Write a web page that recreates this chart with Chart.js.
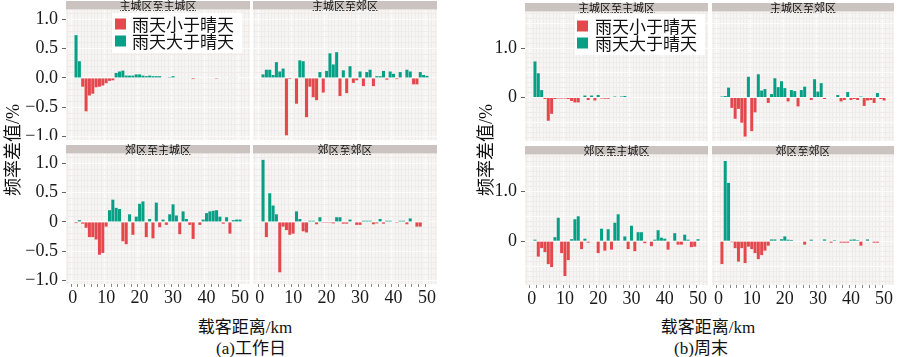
<!DOCTYPE html>
<html><head><meta charset="utf-8">
<script src="https://cdn.jsdelivr.net/npm/chart.js@4.4.0/dist/chart.umd.min.js"></script>
<style>
html,body{margin:0;padding:0;background:#fff;width:900px;height:357px;overflow:hidden;position:relative}
canvas{position:absolute}
.t{position:absolute;font-family:"Liberation Serif","Times New Roman","Noto Sans CJK SC",serif;color:#111;white-space:nowrap;font-size:17px;line-height:1;transform:translate(-50%,-50%)}
.r{transform:translate(-50%,-50%) rotate(-90deg);font-size:18px}
</style></head><body>
<script>
// ---------- data ----------
const kmCategories = [1,2,3,4,5,6,7,8,9,10,11,12,13,14,15,16,17,18,19,20,21,22,23,24,25,26,27,28,29,30,31,32,33,34,35,36,37,38,39,40,41,42,43,44,45,46,47,48,49,50];
const xTickValues = [0,10,20,30,40,50];
const legendLabels = ['雨天小于晴天','雨天大于晴天'];
const stripLabels = ['主城区至主城区','主城区至郊区','郊区至主城区','郊区至郊区'];
const groupCaptions = ['(a)工作日','(b)周末'];
const xAxisTitle = '载客距离/km';
const yAxisTitle = '频率差值/%';
const yTickValuesA = [1,0.5,0,-0.5,-1];
const yTickLabelsATop = ['1.0','0.5','0.0','−0.5','−1.0'];
const yTickLabelsABottom = ['1.0','0.5','0','−0.5','−1.0'];
const yTickValuesB = [1,0];
const yTickLabelsB = ['1.0','0'];

// (a) workday
const workMainMain = [0.73,0.285,-0.15,-0.57,-0.30,-0.27,-0.16,-0.15,-0.13,-0.09,-0.05,-0.04,0.085,0.11,0.125,0.04,0.04,0.04,0.06,0.06,0.04,0.03,0.04,0.03,0.03,0.03,0,0.01,0.015,0.03,0.01,0.01,0.01,0.01,0.01,-0.02,0,0,0,0,0,0,-0.015,0,0.01,0,0.01,0.01,0.01,0];
const workMainSub = [0.06,0.14,0.14,0.05,0.27,0.11,0.16,-0.98,-0.02,0,-0.44,0.30,0.285,-0.67,-0.15,-0.33,-0.38,0.10,-0.25,0.12,0.42,0.23,0.44,-0.31,0.13,-0.26,0.20,-0.085,-0.04,0.11,-0.14,0.10,0.14,-0.14,0.03,0.03,0.12,-0.03,0.11,0.07,-0.02,0.10,0,0.14,0.11,-0.11,-0.11,0.10,0.05,0.035];
const workSubMain = [-0.02,0.03,-0.03,-0.10,-0.26,-0.26,-0.30,-0.56,-0.53,-0.08,0.20,0.38,0.24,0.22,-0.33,-0.38,0.13,-0.22,0.09,0.31,0.35,-0.26,0.05,-0.28,0.33,-0.09,0.04,-0.05,0.13,0.30,0.11,-0.21,0.18,0.05,-0.05,-0.29,0.01,-0.05,0.04,0.15,0.18,0.19,0.20,0.09,-0.03,0.08,-0.20,0.03,0.04,0.04];
const workSubSub = [1.06,-0.26,0.49,0.28,0.13,-0.86,-0.08,-0.14,-0.22,-0.20,0.18,0.05,-0.16,-0.18,0.02,0.02,-0.04,0.08,-0.015,-0.015,-0.015,-0.025,0.08,0.08,-0.03,-0.03,0.04,0,-0.05,-0.05,0.02,0.02,0.02,-0.04,-0.025,0.05,-0.03,0.02,0.02,0,-0.015,0.02,0.02,-0.04,0.06,0,-0.08,-0.08,0.01,0.01];
// (b) weekend
const wkndMainMain = [0.73,0.49,0.15,-0.03,-0.47,-0.33,-0.03,-0.02,-0.02,-0.02,-0.03,-0.07,-0.10,-0.10,0,0.04,-0.05,0.04,-0.06,0.05,-0.02,-0.025,-0.025,-0.01,0.02,-0.01,0.02,0.03,0,0,-0.01,0,-0.01,0,0,0,0,0,0,0.01,0,0.01,-0.01,0,0,0.01,0,0.01,0,0];
const wkndMainSub = [0.02,0.03,0.20,-0.21,-0.43,-0.23,-0.51,-0.79,0.42,-0.68,-0.30,0.47,0.14,0.17,-0.11,0.07,0.39,0.21,0.33,0.19,-0.08,0.15,0.13,-0.18,0.15,0.22,0,-0.05,0.37,0.12,0.29,-0.03,-0.01,0,0,0.05,-0.08,-0.05,0.11,-0.05,-0.03,-0.05,0.02,-0.17,-0.06,-0.05,-0.11,0.09,-0.03,-0.06];
const wkndSubMain = [0.03,-0.31,-0.14,-0.22,-0.46,-0.52,0.08,0.47,-0.24,-0.70,-0.38,0.04,0.44,0.50,-0.16,0.05,-0.03,0,0,-0.24,0.25,-0.19,0.24,-0.17,0.37,0.54,0,0.095,-0.16,0.31,-0.20,0.18,0.18,-0.04,0,-0.10,0.03,0.22,0.07,0.05,-0.17,0,0.16,-0.07,-0.07,0.13,0.03,-0.12,-0.11,0.04];
const wkndSubSub = [-0.46,1.61,1.17,-0.02,-0.14,-0.41,-0.14,-0.44,-0.11,-0.16,-0.24,-0.36,-0.28,-0.19,-0.09,0.035,0.035,0,0.04,0.095,0.03,0.025,0,0.01,0,-0.07,0.01,0.03,0,0,0.01,0.035,0,-0.03,0.02,0,-0.03,-0.03,-0.03,0.03,0.035,0.02,-0.09,0.01,0.035,-0.01,-0.03,-0.03,0,0.01];

// ---------- style ----------
const RED = '#e5484c';
const TEAL = '#05a086';
const STRIP_BG = '#cac3c0';
const PANEL_BG = '#f7f5f4';
const MINOR = '#efebe9';
const MAJOR = '#fcfbfb';
const CLEAR = 'rgba(0,0,0,0)';
const SERIF = '"Liberation Serif", "Times New Roman", serif';
const CJK = '"Noto Sans CJK SC", sans-serif';

const near = (a,b)=>Math.abs(a-b)<1e-6;

const bgPlugin = {id:'panelBg', beforeDraw(chart){
  const {ctx, chartArea:a} = chart;
  ctx.save(); ctx.fillStyle = PANEL_BG; ctx.fillRect(a.left, a.top, a.right-a.left, a.bottom-a.top); ctx.restore();
}};
const stripPlugin = {id:'strip', beforeDraw(chart, args, opts){
  const {ctx, chartArea:a} = chart;
  ctx.save();
  ctx.fillStyle = STRIP_BG; ctx.fillRect(a.left, a.top-9, a.right-a.left, 8.5);
  ctx.fillStyle = '#111'; ctx.font = '11px ' + CJK; ctx.textAlign='center'; ctx.textBaseline='middle';
  ctx.fillText(opts.text, (a.left+a.right)/2, a.top-4.5);
  ctx.restore();
}};
const legendPlugin = {id:'panelLegend', afterDraw(chart, args, o){
  if(!o || !o.show) return;
  const ctx = chart.ctx;
  ctx.save();
  ctx.fillStyle = '#ffffff'; ctx.fillRect(o.x, o.y, o.w, o.h);
  ctx.font = '17px ' + CJK; ctx.textBaseline='middle'; ctx.textAlign='left';
  chart.data.datasets.forEach((ds,i)=>{
    const cy = o.rowY[i];
    ctx.fillStyle = ds.backgroundColor; ctx.fillRect(o.sqX, cy-5.5, 11, 11);
    ctx.fillStyle = '#111'; ctx.fillText(ds.label, o.textX, cy+1);
  });
  ctx.restore();
}};

function makePanel(p){
  const c = document.createElement('canvas');
  c.width = p.w; c.height = p.h;
  c.style.left = p.left+'px'; c.style.top = p.top+'px';
  c.style.width = p.w+'px'; c.style.height = p.h+'px';
  document.body.appendChild(c);
  const neg = p.values.map((v,i)=>({x:kmCategories[i], y: v<0 ? v : null}));
  const pos = p.values.map((v,i)=>({x:kmCategories[i], y: v>0 ? v : null}));
  const barOpts = {grouped:false, barPercentage:0.9, categoryPercentage:1, borderWidth:0};
  new Chart(c, {
    type:'bar',
    data:{datasets:[
      Object.assign({label:legendLabels[0], data:neg, backgroundColor:RED}, barOpts),
      Object.assign({label:legendLabels[1], data:pos, backgroundColor:TEAL}, barOpts)
    ]},
    options:{
      responsive:false, animation:false, devicePixelRatio:1,
      layout:{padding:{top:p.padTop, left:0, right:0, bottom:0}, autoPadding:false},
      plugins:{legend:{display:false}, tooltip:{enabled:false}, strip:{text:p.strip}, panelLegend:p.legend || {show:false}},
      scales:{
        x:{type:'linear', min:-2, max:53, offset:false,
           border:{display:false},
           grid:{lineWidth:1, drawTicks:p.xh>0, tickLength:3,
                 color:(ctx)=>{ if(!ctx.tick) return CLEAR; const v=ctx.tick.value; if(!Number.isInteger(v)) return CLEAR; return v%10===0?MAJOR:MINOR;},
                 tickColor:(ctx)=>{ if(!ctx.tick) return CLEAR; const v=ctx.tick.value; return (v>=0 && v<=50 && v%2===0)?'#8a8a8a':CLEAR;}},
           ticks:{stepSize:1, autoSkip:false, includeBounds:false, maxRotation:0, minRotation:0, display:p.xh>0, padding:0,
                  color:'#1a1a1a', font:{family:SERIF, size:18},
                  callback:(v)=> xTickValues.some(t=>near(t,v)) ? String(Math.round(v)) : ''},
           afterFit:(s)=>{s.height = p.xh; s.paddingLeft=0; s.paddingRight=0; s.paddingTop=0; s.paddingBottom=0;}},
        y:{min:p.ymin, max:p.ymax,
           border:{display:false},
           grid:{lineWidth:1, drawTicks:p.yw>0, tickLength:4,
                 color:(ctx)=>{ if(!ctx.tick) return CLEAR; const v=ctx.tick.value; const k=Math.round(v*10); if(!near(k/10,v)) return CLEAR; return (k%5===0)?MAJOR:MINOR;},
                 tickColor:(ctx)=> (ctx.tick && p.yVals.some(t=>near(t,ctx.tick.value))) ? '#666' : CLEAR},
           ticks:{stepSize:0.1, autoSkip:false, includeBounds:false, display:p.yw>0, padding:4,
                  color:'#1a1a1a', font:{family:SERIF, size:18},
                  callback:(v)=>{const i=p.yVals.findIndex(t=>near(t,v)); return i>=0 ? p.yLabels[i] : '';}},
           afterFit:(s)=>{s.width = p.yw; s.paddingLeft=0; s.paddingRight=0; s.paddingTop=0; s.paddingBottom=0;}}
      }
    },
    plugins:[bgPlugin, stripPlugin, legendPlugin]
  });
}

const A = {ymin:-1.06, ymax:1.16, yVals:yTickValuesA};
const B = {ymin:-0.88, ymax:1.73, yVals:yTickValuesB, yLabels:yTickLabelsB};
const panels = [
  Object.assign({strip:stripLabels[0], values:workMainMain, left:0,   top:0,   w:250, h:140, yw:66, xh:0,  padTop:10, yLabels:yTickLabelsATop,
    legend:{show:true, x:112, y:13, w:130, h:40, sqX:115, textX:132, rowY:[24,41]}}, A),
  Object.assign({strip:stripLabels[1], values:workMainSub,  left:253, top:0,   w:184, h:140, yw:0,  xh:0,  padTop:10, yLabels:yTickLabelsATop}, A),
  Object.assign({strip:stripLabels[2], values:workSubMain,  left:0,   top:144, w:250, h:164, yw:66, xh:24, padTop:10, yLabels:yTickLabelsABottom}, A),
  Object.assign({strip:stripLabels[3], values:workSubSub,   left:253, top:144, w:184, h:164, yw:0,  xh:24, padTop:10, yLabels:yTickLabelsABottom}, A),
  Object.assign({strip:stripLabels[0], values:wkndMainMain, left:488, top:0,   w:220, h:141, yw:37, xh:0,  padTop:12,
    legend:{show:true, x:87, y:14, w:130, h:41, sqX:89, textX:107, rowY:[26,43]}}, B),
  Object.assign({strip:stripLabels[1], values:wkndMainSub,  left:712, top:0,   w:182, h:141, yw:0,  xh:0,  padTop:12}, B),
  Object.assign({strip:stripLabels[2], values:wkndSubMain,  left:488, top:145, w:220, h:164, yw:37, xh:24, padTop:10}, B),
  Object.assign({strip:stripLabels[3], values:wkndSubSub,   left:712, top:145, w:182, h:164, yw:0,  xh:24, padTop:10}, B)
];
panels.forEach(makePanel);

function addText(txt, x, y, cls){
  const d = document.createElement('div');
  d.className = 't' + (cls ? ' '+cls : '');
  d.textContent = txt; d.style.left = x+'px'; d.style.top = y+'px';
  document.body.appendChild(d);
}
addText(yAxisTitle, 13, 150, 'r');
addText(yAxisTitle, 486, 150, 'r');
addText(xAxisTitle, 245, 327);
addText(xAxisTitle, 708, 327);
addText(groupCaptions[0], 251, 348);
addText(groupCaptions[1], 701, 348);
</script>
</body></html>
